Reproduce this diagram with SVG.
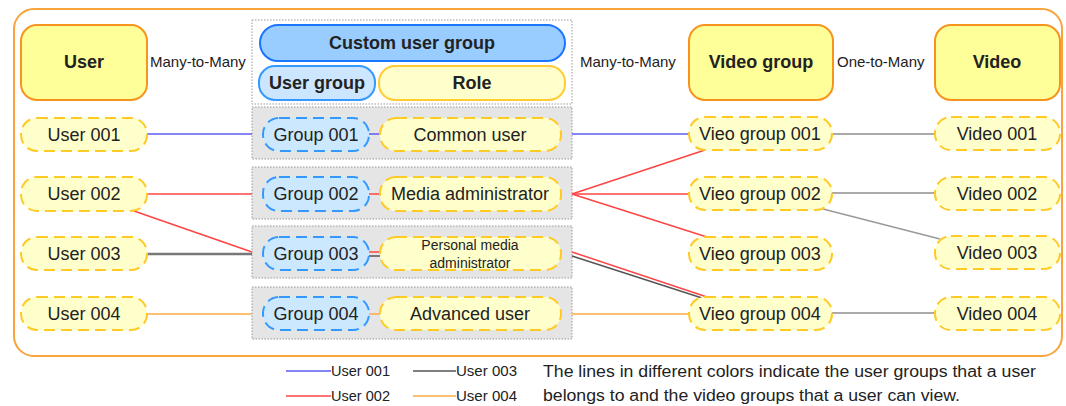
<svg xmlns="http://www.w3.org/2000/svg" width="1066" height="406" viewBox="0 0 1066 406">
  <style>
    text { font-family: "Liberation Sans", Arial, sans-serif; fill: #222; }
    .hdr { fill: #ffff99; stroke: #f7941d; stroke-width: 2; }
    .hdrt { font-size: 18px; font-weight: bold; text-anchor: middle; }
    .node { fill: #ffffcc; stroke: #ffc926; stroke-width: 2; stroke-dasharray: 11 6; }
    .grp { fill: #cce8ff; stroke: #3399ff; stroke-width: 2; stroke-dasharray: 11 6; }
    .nt { font-size: 18px; text-anchor: middle; }
    .rel { font-size: 15px; }
    .row { fill: #e5e5e5; stroke: #999; stroke-width: 1; stroke-dasharray: 1.5 1.5; }
    .u1 { stroke: #5b5bf0; stroke-width: 1.5; fill: none; }
    .u2 { stroke: #ff4444; stroke-width: 1.5; fill: none; }
    .u3 { stroke: #555; stroke-width: 1.5; fill: none; }
    .u3b { stroke: #777; stroke-width: 2.5; fill: none; }
    .u4 { stroke: #ffaa44; stroke-width: 1.5; fill: none; }
    .v { stroke: #aaa; stroke-width: 2; fill: none; }
    .vt { stroke: #999; stroke-width: 1.3; fill: none; }
    .leg { font-size: 14px; }
    .para { font-size: 16px; }
  </style>

  <!-- outer frame -->
  <rect x="14" y="9" width="1048" height="347" rx="20" fill="#fff" stroke="#f9a43a" stroke-width="2"/>

  <!-- custom user group panel and rows -->
  <rect x="252" y="20" width="320" height="84" fill="#fff" stroke="#999" stroke-width="1" stroke-dasharray="1.5 1.5"/>
  <rect class="row" x="252" y="107" width="320" height="52"/>
  <rect class="row" x="252" y="167" width="320" height="52"/>
  <rect class="row" x="252" y="226" width="320" height="52"/>
  <rect class="row" x="252" y="287" width="320" height="52"/>

  <!-- connectors -->
  <g id="connectors">
    <!-- User 001 -->
    <line class="u1" x1="147" y1="134" x2="252" y2="134"/>
    <line class="u1" x1="369" y1="134" x2="380" y2="134"/>
    <line class="u1" x1="572" y1="134" x2="689" y2="134"/>
    <!-- User 002 -->
    <line class="u2" x1="147" y1="194" x2="252" y2="194"/>
    <line class="u2" x1="134" y1="211" x2="252" y2="252"/>
    <line class="u2" x1="369" y1="194" x2="380" y2="194"/>
    <line class="u2" x1="572" y1="194" x2="705" y2="150"/>
    <line class="u2" x1="572" y1="194" x2="689" y2="194"/>
    <line class="u2" x1="572" y1="194" x2="707" y2="237"/>
    <line class="u2" x1="369" y1="252" x2="380" y2="252"/>
    <line class="u2" x1="572" y1="252" x2="707" y2="297"/>
    <!-- User 003 -->
    <line class="u3b" x1="147" y1="254" x2="252" y2="254"/>
    <line class="u3" x1="369" y1="256" x2="380" y2="256"/>
    <line class="u3" x1="572" y1="256" x2="702" y2="298"/>
    <!-- User 004 -->
    <line class="u4" x1="147" y1="314" x2="252" y2="314"/>
    <line class="u4" x1="369" y1="314" x2="380" y2="314"/>
    <line class="u4" x1="572" y1="314" x2="689" y2="314"/>
    <!-- video groups to videos -->
    <line class="v" x1="832" y1="134" x2="935" y2="134"/>
    <line class="v" x1="832" y1="193" x2="935" y2="193"/>
    <line class="vt" x1="823" y1="209" x2="940" y2="239"/>
    <line class="v" x1="832" y1="313" x2="935" y2="313" stroke="#888"/>
  </g>

  <!-- headers -->
  <g id="user-header">
    <rect class="hdr" x="21" y="25" width="126" height="75" rx="16"/>
    <text class="hdrt" x="84" y="68">User</text>
  </g>
  <text class="rel" x="150" y="67">Many-to-Many</text>
  <g id="custom-user-group">
    <rect x="260" y="25" width="305" height="36" rx="18" fill="#99ccff" stroke="#1a75ff" stroke-width="2"/>
    <text class="hdrt" x="412" y="49">Custom user group</text>
  </g>
  <g id="user-group-header">
    <rect x="259" y="66" width="116" height="34" rx="16" fill="#cce6ff" stroke="#3399ff" stroke-width="2"/>
    <text class="hdrt" x="317" y="89">User group</text>
  </g>
  <g id="role-header">
    <rect x="379" y="66" width="186" height="34" rx="16" fill="#ffffcc" stroke="#ffcc33" stroke-width="2"/>
    <text class="hdrt" x="472" y="89">Role</text>
  </g>
  <text class="rel" x="580" y="67">Many-to-Many</text>
  <g id="video-group-header">
    <rect class="hdr" x="689" y="25" width="144" height="75" rx="16"/>
    <text class="hdrt" x="761" y="68">Video group</text>
  </g>
  <text class="rel" x="837" y="67">One-to-Many</text>
  <g id="video-header">
    <rect class="hdr" x="935" y="25" width="125" height="75" rx="16"/>
    <text class="hdrt" x="997" y="68">Video</text>
  </g>

  <!-- users -->
  <g id="user-001"><rect class="node" x="21" y="118" width="126" height="33" rx="16"/><text class="nt" x="84" y="141">User 001</text></g>
  <g id="user-002"><rect class="node" x="21" y="177" width="126" height="34" rx="16"/><text class="nt" x="84" y="200">User 002</text></g>
  <g id="user-003"><rect class="node" x="21" y="237" width="126" height="33" rx="16"/><text class="nt" x="84" y="260">User 003</text></g>
  <g id="user-004"><rect class="node" x="21" y="297" width="126" height="33" rx="16"/><text class="nt" x="84" y="320">User 004</text></g>

  <!-- user groups -->
  <g id="group-001"><rect class="grp" x="263" y="118" width="106" height="33" rx="16"/><text class="nt" x="316" y="141">Group 001</text></g>
  <g id="group-002"><rect class="grp" x="263" y="177" width="106" height="34" rx="16"/><text class="nt" x="316" y="200">Group 002</text></g>
  <g id="group-003"><rect class="grp" x="263" y="237" width="106" height="33" rx="16"/><text class="nt" x="316" y="260">Group 003</text></g>
  <g id="group-004"><rect class="grp" x="263" y="297" width="106" height="33" rx="16"/><text class="nt" x="316" y="320">Group 004</text></g>

  <!-- roles -->
  <g id="role-common"><rect class="node" x="380" y="118" width="181" height="33" rx="16"/><text class="nt" x="470" y="141">Common user</text></g>
  <g id="role-media-admin"><rect class="node" x="380" y="177" width="181" height="34" rx="16"/><text class="nt" x="470" y="200">Media administrator</text></g>
  <g id="role-personal-admin">
    <rect class="node" x="380" y="237" width="181" height="33" rx="16"/>
    <text x="470" y="250" font-size="14" text-anchor="middle">Personal media</text>
    <text x="470" y="268" font-size="14" text-anchor="middle">administrator</text>
  </g>
  <g id="role-advanced"><rect class="node" x="380" y="297" width="181" height="33" rx="16"/><text class="nt" x="470" y="320">Advanced user</text></g>

  <!-- video groups -->
  <g id="video-group-001"><rect class="node" x="689" y="117" width="143" height="33" rx="16"/><text class="nt" x="760" y="140">Vieo group 001</text></g>
  <g id="video-group-002"><rect class="node" x="689" y="177" width="143" height="33" rx="16"/><text class="nt" x="760" y="200">Vieo group 002</text></g>
  <g id="video-group-003"><rect class="node" x="689" y="237" width="143" height="33" rx="16"/><text class="nt" x="760" y="260">Vieo group 003</text></g>
  <g id="video-group-004"><rect class="node" x="689" y="297" width="143" height="33" rx="16"/><text class="nt" x="760" y="320">Vieo group 004</text></g>

  <!-- videos -->
  <g id="video-001"><rect class="node" x="935" y="117" width="125" height="33" rx="16"/><text class="nt" x="997" y="140">Video 001</text></g>
  <g id="video-002"><rect class="node" x="935" y="177" width="125" height="33" rx="16"/><text class="nt" x="997" y="200">Video 002</text></g>
  <g id="video-003"><rect class="node" x="935" y="236" width="125" height="33" rx="16"/><text class="nt" x="997" y="259">Video 003</text></g>
  <g id="video-004"><rect class="node" x="935" y="297" width="125" height="33" rx="16"/><text class="nt" x="997" y="320">Video 004</text></g>

  <!-- legend -->
  <g id="legend">
    <line class="u1" x1="286" y1="371" x2="331" y2="371"/>
    <text class="leg" x="331" y="376" textLength="59" lengthAdjust="spacingAndGlyphs">User 001</text>
    <line class="u2" x1="286" y1="396" x2="331" y2="396"/>
    <text class="leg" x="331" y="401" textLength="59" lengthAdjust="spacingAndGlyphs">User 002</text>
    <line class="u3" x1="413" y1="371" x2="456" y2="371"/>
    <text class="leg" x="456" y="376" textLength="61" lengthAdjust="spacingAndGlyphs">User 003</text>
    <line class="u4" x1="413" y1="396" x2="456" y2="396"/>
    <text class="leg" x="456" y="401" textLength="61" lengthAdjust="spacingAndGlyphs">User 004</text>
    <text class="para" x="543" y="377" textLength="493" lengthAdjust="spacingAndGlyphs">The lines in different colors indicate the user groups that a user</text>
    <text class="para" x="543" y="401" textLength="417" lengthAdjust="spacingAndGlyphs">belongs to and the video groups that a user can view.</text>
  </g>
</svg>
